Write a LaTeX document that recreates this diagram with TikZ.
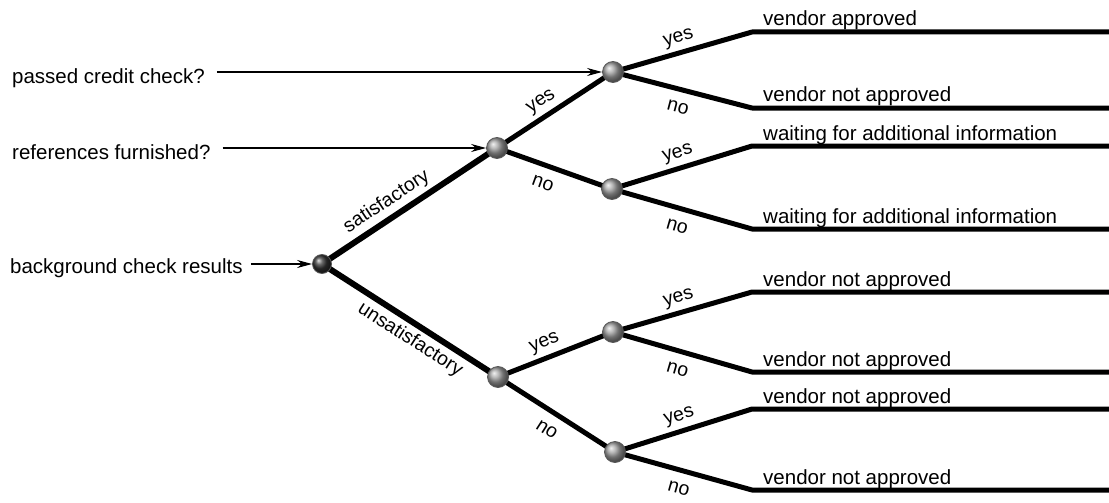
\documentclass[tikz,border=0pt]{standalone}
\usepackage{fontspec}
\setmainfont{Liberation Sans}
\usetikzlibrary{arrows.meta}
\pgfdeclarelayer{bg}
\pgfsetlayers{bg,main}
\begin{document}
\begin{tikzpicture}[x=1pt,y=-1pt,
  txt/.style={font=\fontsize{20.5}{24}\selectfont, inner sep=0pt},
  dot/.style={circle, minimum size=21pt, inner sep=0pt, shading=ball,
              ball color=gray!75, draw=black!65, line width=0.8pt},
  rootdot/.style={dot, ball color=black!80, minimum size=19pt},
  branch/.style={line width=5pt, line join=round},
  trunk/.style={line width=6pt, line join=round},
  feed/.style={line width=1.4pt, -{Stealth[length=15pt,width=8pt]}},
  leaftext/.style={txt, anchor=base west},
  lab/.style={sloped, inner sep=4pt, font=\fontsize{19.5}{22}\selectfont},
  yeslab/.style={lab, above},
  nolab/.style={lab, below, inner sep=10pt}
]
\useasboundingbox (0,0) rectangle (1109,503);

% decision points
\node[rootdot] (r)  at (322,264) {};
\node[dot]     (s)  at (497,148) {};
\node[dot]     (u)  at (498,377) {};
\node[dot]     (sy) at (613,72)  {};
\node[dot]     (sn) at (612,189) {};
\node[dot]     (uy) at (613,332) {};
\node[dot]     (un) at (615,452) {};

% questions feeding the decision points
\node[txt, anchor=base west] (q1) at (12,84)  {passed credit check?};
\node[txt, anchor=base west] (q2) at (12,159) {references furnished?};
\node[txt, anchor=base west] (q3) at (10,273) {background check results};
\draw[feed] ([xshift=12pt]q1.east |- sy.west) -- (sy.west);
\draw[feed] ([xshift=12pt]q2.east |- s.west) -- (s.west);
\draw[feed] ([xshift=8pt]q3.east |- r.west) -- (r.west);

% outcome bends and line ends
\foreach \i/\y in {1/32,2/108,3/146,4/229,5/292,6/372,7/409,8/490}{
  \coordinate (b\i) at (752,\y);
  \coordinate (e\i) at (1109,\y);
}

% outcome texts
\node[leaftext] (t1) at (763,26)  {vendor approved};
\node[leaftext] (t2) at (763,102) {vendor not approved};
\node[leaftext] (t3) at (763,140) {waiting for additional information};
\node[leaftext] (t4) at (763,223) {waiting for additional information};
\node[leaftext] (t5) at (763,286) {vendor not approved};
\node[leaftext] (t6) at (763,366) {vendor not approved};
\node[leaftext] (t7) at (763,403) {vendor not approved};
\node[leaftext] (t8) at (763,484) {vendor not approved};

\begin{pgfonlayer}{bg}
  \draw[trunk] (r.center) -- node[lab, above, pos=0.42] {satisfactory} (s.center);
  \draw[trunk] (r.center) -- node[lab, below, pos=0.55] {unsatisfactory} (u.center);

  \draw[branch] (s.center) -- node[yeslab, pos=0.45] {yes} (sy.center);
  \draw[branch] (s.center) -- node[nolab, pos=0.45] {no} (sn.center);
  \draw[branch] (u.center) -- node[yeslab, pos=0.45] {yes} (uy.center);
  \draw[branch] (u.center) -- node[nolab, pos=0.5] {no} (un.center);

  \draw[branch] (sy.center) -- node[yeslab, pos=0.5] {yes} (b1) -- (e1);
  \draw[branch] (sy.center) -- node[nolab, pos=0.5] {no}  (b2) -- (e2);
  \draw[branch] (sn.center) -- node[yeslab, pos=0.5] {yes} (b3) -- (e3);
  \draw[branch] (sn.center) -- node[nolab, pos=0.5] {no}  (b4) -- (e4);
  \draw[branch] (uy.center) -- node[yeslab, pos=0.5] {yes} (b5) -- (e5);
  \draw[branch] (uy.center) -- node[nolab, pos=0.5] {no}  (b6) -- (e6);
  \draw[branch] (un.center) -- node[yeslab, pos=0.5] {yes} (b7) -- (e7);
  \draw[branch] (un.center) -- node[nolab, pos=0.5] {no}  (b8) -- (e8);
\end{pgfonlayer}
\end{tikzpicture}
\end{document}
